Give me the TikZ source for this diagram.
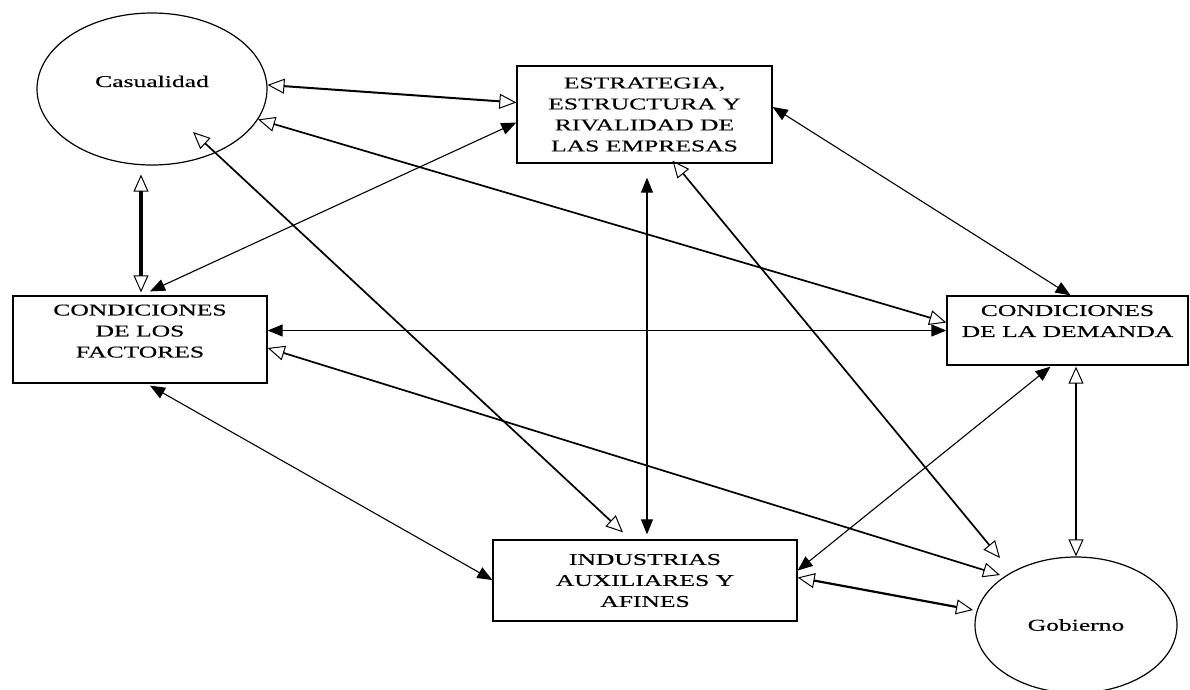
\documentclass[tikz,border=0pt]{standalone}
\usepackage{fontspec}
\setmainfont[FakeStretch=1.55, FakeBold=0.4]{Liberation Serif}
\usetikzlibrary{calc,arrows.meta,shapes.geometric}
\tikzset{
	caja/.style={draw, line width=1.3pt, align=center, inner sep=0pt, font=\fontsize{16.5}{21}\selectfont},
	elipse/.style={ellipse, draw, line width=1.2pt, inner sep=0pt, font=\fontsize{16.5}{21}\selectfont},
	abierta/.style={{Triangle[open,length=17pt,width=15pt,line width=1pt]}-{Triangle[open,length=17pt,width=15pt,line width=1pt]}, line width=1.7pt},
	llena/.style={{Triangle[length=15pt,width=12pt]}-{Triangle[length=15pt,width=12pt]}, line width=1.1pt}
}

\begin{document}
\begin{tikzpicture}[x=1pt, y=-1pt]
		%%%%% START %%%%%
		\useasboundingbox (0, 0) rectangle (1190, 689);
		
		\node[elipse, minimum width=230, minimum height=152, text height=11pt, text depth=15pt] (cas) at (152, 89) {Casualidad};
		\node[elipse, minimum width=202, minimum height=136] (gob) at (1076, 625) {Gobierno};
		
		\node[caja, minimum width=255, minimum height=97] (estr) at (644.5, 114.5) {ESTRATEGIA,\\ESTRUCTURA Y\\RIVALIDAD DE\\LAS EMPRESAS};
		\node[caja, minimum width=254, minimum height=87, text depth=17pt] (fact) at (140, 339.5) {CONDICIONES\\DE LOS\\FACTORES};
		\node[caja, minimum width=241, minimum height=69, text depth=19pt] (dem) at (1067.5, 330.5) {CONDICIONES\\DE LA DEMANDA};
		\node[caja, minimum width=304, minimum height=81] (ind) at (645, 580.5) {INDUSTRIAS\\AUXILIARES Y\\AFINES};
		
		% flechas abiertas
		\draw[abierta, line width=2pt] (cas.2) -- ($(estr.west)+(0, -12)$);
		\draw[abierta] (cas.-16) -- ($(dem.west)+(0, -8)$);
		\draw[abierta, line width=3.2pt] ($(cas.south)+(-11, 9)$) -- ($(fact.north)+(1, -3)$);
		\draw[abierta] ($(cas.center)+(41, 43)$) -- ($(ind.north)+(-22, -7)$);
		\draw[abierta] ($(estr.south)+(28, -3)$) -- ($(gob.center)+(-76, -67)$);
		\draw[abierta] ($(fact.east)+(0, 8.5)$) -- ($(gob.center)+(-76, -50)$);
		\draw[abierta, line width=2.6pt] ($(dem.south)+(8.5, 1)$) -- (gob.north);
		\draw[abierta, line width=2.2pt] ($(ind.east)+(0, -3)$) -- ($(gob.center)+(-103, -15)$);
		
		% flechas llenas
		\draw[llena] ($(estr.west)+(0, 8)$) -- ($(fact.north)+(10, -4)$);
		\draw[llena] ($(estr.east)+(0, -7.5)$) -- ($(dem.north)+(3, 0)$);
		\draw[llena] ($(estr.south)+(2.5, 14)$) -- ($(ind.north)+(2, -5)$);
		\draw[llena] (fact.east |- dem.west) -- (dem.west);
		\draw[llena] ($(fact.south)+(10, 2)$) -- ($(ind.west)+(0, -0.5)$);
		\draw[llena] ($(dem.south)+(-17, 1)$) -- ($(ind.east)+(0, -10)$);
		
		%%%%% END %%%%%
	\end{tikzpicture}
\end{document}
